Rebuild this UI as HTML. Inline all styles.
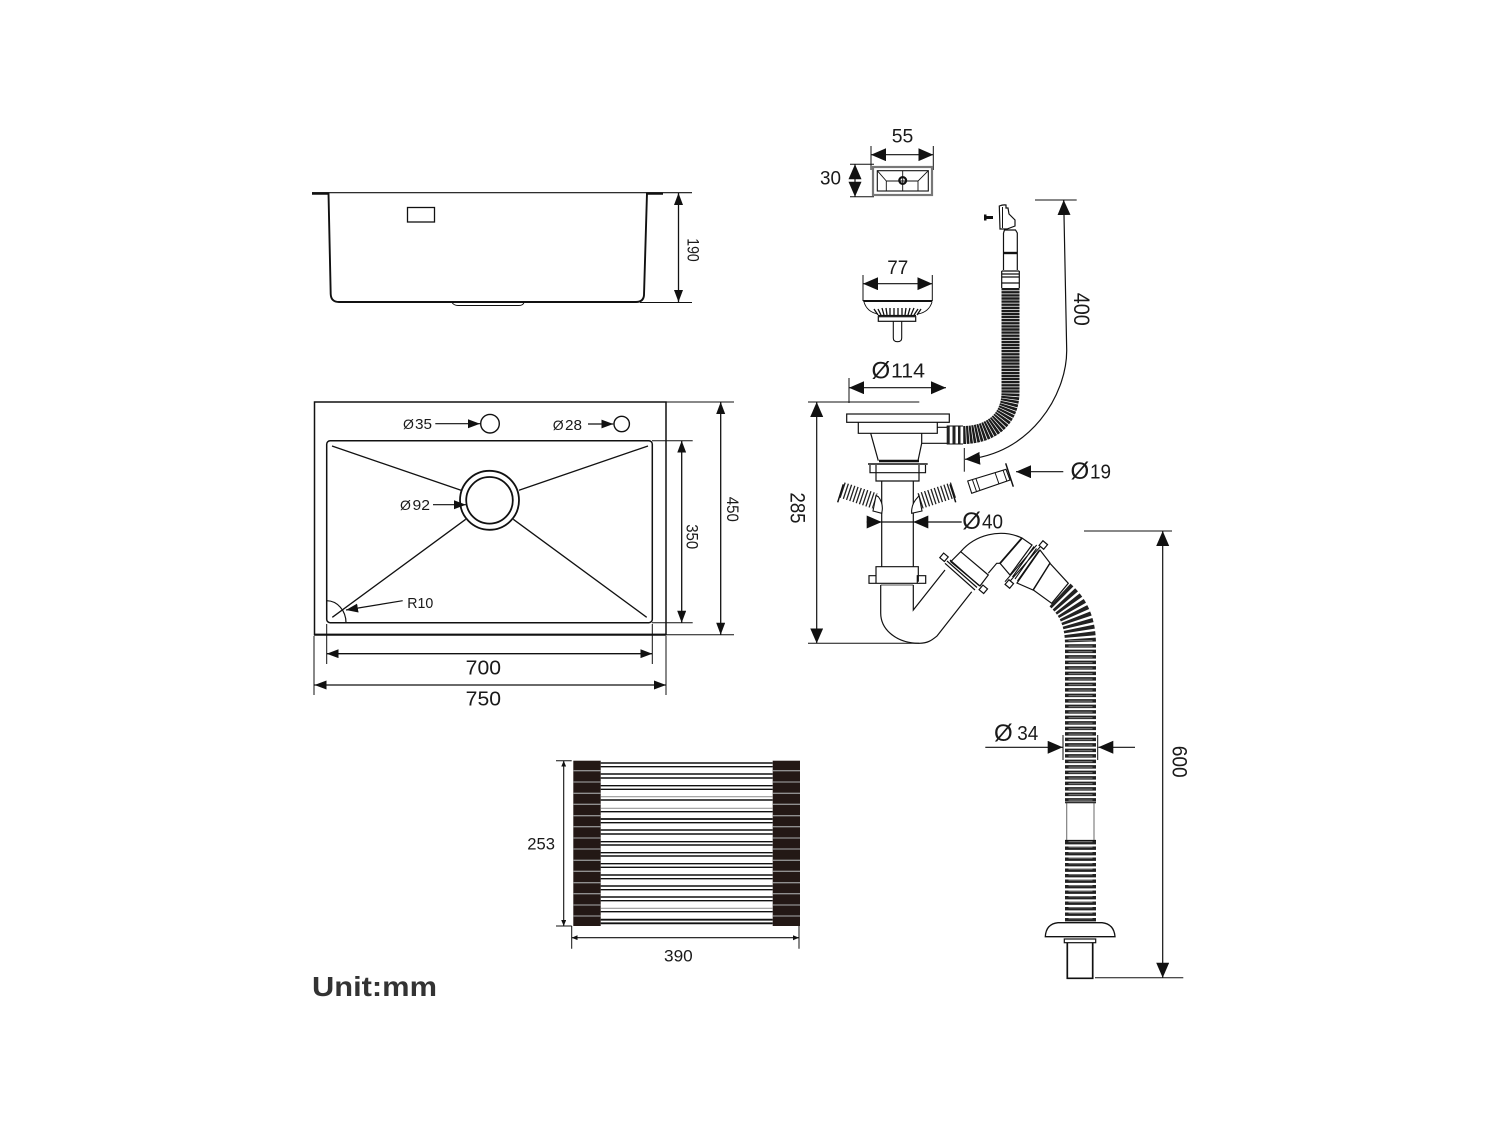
<!DOCTYPE html>
<html><head><meta charset="utf-8"><style>html,body{margin:0;padding:0;background:#fff}svg{display:block}text{font-family:"Liberation Sans",sans-serif;fill:#1a1a1a}</style></head><body>
<svg width="1500" height="1125" viewBox="0 0 1500 1125" xmlns="http://www.w3.org/2000/svg">
<defs>
<marker id="a" markerUnits="userSpaceOnUse" markerWidth="13" markerHeight="10" refX="12" refY="4.5" orient="auto-start-reverse"><path d="M0 0L12 4.5L0 9z" fill="#111"/></marker>
<marker id="b" markerUnits="userSpaceOnUse" markerWidth="16" markerHeight="14" refX="15" refY="6.5" orient="auto-start-reverse"><path d="M0 0L15 6.5L0 13z" fill="#111"/></marker>
<marker id="c" markerUnits="userSpaceOnUse" markerWidth="7" markerHeight="6" refX="6" refY="2.5" orient="auto-start-reverse"><path d="M0 0L6 2.5L0 5z" fill="#111"/></marker>
</defs>
<g fill="none" stroke="#111" stroke-width="1.2">
<!-- side view -->
<path d="M312 192.7H692" stroke-width="1.2"/>
<path d="M312 193.5H329M646 193.5H663" stroke-width="2.4"/>
<path d="M328.5 193L330.7 294Q331 302 339 302H636Q643.5 302 644 295L647 193" stroke-width="1.9"/>
<path d="M452 302.5Q454 305.5 458 305.5H519Q523 305.5 524 302.5" stroke-width="1"/>
<rect x="407.5" y="207.5" width="27" height="14.5" stroke-width="1.3"/>
<path d="M640 302.5H692" stroke-width="1"/>
<path d="M678.5 193V302" stroke-width="1.3" marker-start="url(#a)" marker-end="url(#a)"/>
<!-- plan view -->
<rect x="314.5" y="402" width="351.5" height="232.7" stroke-width="1.5"/>
<path d="M314 634.7H666" stroke-width="2.2"/>
<rect x="326.7" y="440.7" width="325.6" height="182" rx="3.5" stroke-width="1.5"/>
<path d="M332 446L461 490.3M648 446L519 490.3M332.3 617.3L465.7 519.3M646.7 617.3L513.3 519.3" stroke-width="1.3"/>
<circle cx="489.5" cy="500.3" r="29.5" stroke-width="1.8"/>
<circle cx="489.5" cy="500.3" r="23.3" stroke-width="1.8"/>
<circle cx="490" cy="423.7" r="9.3" stroke-width="1.4"/>
<circle cx="621.7" cy="424" r="7.7" stroke-width="1.4"/>
<path d="M435.3 423.7H480" marker-end="url(#a)"/>
<path d="M588 424H613.3" marker-end="url(#a)"/>
<path d="M433 504.7H466" marker-end="url(#a)"/>
<path d="M402.7 600.7L346 610" marker-end="url(#a)"/>
<path d="M326.7 600.7A19.5 22 0 0 1 346 622.7"/>
<path d="M652 440.7H692.7M652 622.7H692.7M666 402H734M666 634.7H734" stroke-width="1"/>
<path d="M681.7 440.7V622.7" stroke-width="1.3" marker-start="url(#a)" marker-end="url(#a)"/>
<path d="M720.7 402V634.7" stroke-width="1.3" marker-start="url(#a)" marker-end="url(#a)"/>
<path d="M326.7 624V664M652.3 624V664M314 636V695M666 636V695" stroke-width="1"/>
<path d="M326.7 653.7H652.3" stroke-width="1.3" marker-start="url(#a)" marker-end="url(#a)"/>
<path d="M314.5 685H666" stroke-width="1.3" marker-start="url(#a)" marker-end="url(#a)"/>
<!-- mat -->
<g stroke="none" fill="#231815"><rect x="573.3" y="760.7" width="27.4" height="165.3"/><rect x="772.7" y="760.7" width="27.3" height="165.3"/></g>
<path d="M573.3 770.7H600.7M573.3 782H600.7M573.3 793.3H600.7M573.3 804.3H600.7M573.3 815.7H600.7M573.3 826.7H600.7M573.3 838H600.7M573.3 849H600.7M573.3 860.3H600.7M573.3 871.3H600.7M573.3 882.7H600.7M573.3 893.7H600.7M573.3 905H600.7M573.3 916H600.7M772.7 770.7H800M772.7 782H800M772.7 793.3H800M772.7 804.3H800M772.7 815.7H800M772.7 826.7H800M772.7 838H800M772.7 849H800M772.7 860.3H800M772.7 871.3H800M772.7 882.7H800M772.7 893.7H800M772.7 905H800M772.7 916H800" stroke="#8f8f8f" stroke-width="1.3"/>
<path d="M600.7 763H772.7M600.7 766.7H772.7M600.7 774H772.7M600.7 778H772.7M600.7 785.7H772.7M600.7 789.3H772.7M600.7 800H772.7M600.7 811.7H772.7M600.7 822.7H772.7M600.7 830H772.7M600.7 834H772.7M600.7 841.7H772.7M600.7 845H772.7M600.7 852.7H772.7M600.7 856H772.7M600.7 863.7H772.7M600.7 867.3H772.7M600.7 875H772.7M600.7 878.7H772.7M600.7 886H772.7M600.7 889.7H772.7M600.7 897H772.7M600.7 900.7H772.7M600.7 911.7H772.7" stroke-width="1.4"/>
<path d="M600.7 819H772.7M600.7 919.7H772.7M600.7 923.3H772.7" stroke-width="1.8"/>
<path d="M600.7 796.7H772.7M600.7 808.3H772.7M600.7 908.3H772.7" stroke="#999" stroke-width="1.2"/>
<path d="M556 760.7H571.7M556 926H571.7M571.7 926V948.7M799 926V948.7" stroke-width="1"/>
<path d="M563.7 760.7V926" stroke-width="1.1" marker-start="url(#c)" marker-end="url(#c)"/>
<path d="M571.7 937.7H799" stroke-width="1.1" marker-start="url(#c)" marker-end="url(#c)"/>
<!-- overflow box -->
<path d="M871 146V170M933.3 146V170M850 164.3H874M850 196.7H874" stroke-width="1"/>
<path d="M871 154.7H933.3" stroke-width="1.2" marker-start="url(#b)" marker-end="url(#b)"/>
<path d="M855 164.3V196.7" stroke-width="1.2" marker-start="url(#b)" marker-end="url(#b)"/>
<rect x="873" y="167" width="59" height="28" stroke="#777" stroke-width="2.2"/>
<rect x="877.3" y="170.7" width="51" height="20.3" stroke-width="1.1"/>
<path d="M877.3 170.7L886.3 181V191M928.3 170.7L918 181V191M886.3 181H918M902.7 170.7V191" stroke-width=".9"/>
<circle cx="902.7" cy="180.5" r="3.4" stroke-width="2.2"/>
<!-- strainer -->
<path d="M863 275V301M932.3 275V301" stroke-width="1"/>
<path d="M863 283.7H932.3" stroke-width="1.2" marker-start="url(#b)" marker-end="url(#b)"/>
<path d="M863.3 301H932.3" stroke-width="2"/>
<path d="M864 302Q867 312 878 314M932 302Q929 312 918 314" stroke-width=".9"/>
<path d="M874 309L878 315M878 309L881 315M882 308L884 315M886 308L887 315M890 308V315M894 308V315M898 308V315M902 308V315M906 308L905 315M910 308L908 315M914 308L911 315M918 309L914 315M921 309L917 315" stroke-width="1.3"/>
<rect x="878.3" y="316.7" width="37.4" height="4.6" stroke-width="1.2"/>
<path d="M878 315.5H916" stroke-width="1.2"/>
<path d="M893.3 321.3V338Q893.3 341.7 897.5 341.7T901.7 338V321.3" stroke-width="1.1"/>
<!-- hose top fitting -->
<rect x="986" y="216" width="7" height="3" fill="#111" stroke="none"/><rect x="984" y="214.5" width="2.5" height="6" fill="#111" stroke="none"/>
<path d="M999.3 206Q1003 204.5 1006 205V208H1008L1009 214L1015 220V226L1007 229H1000Z" stroke-width="1.2"/>
<path d="M1002.5 207V228" stroke-width="1"/>
<path d="M1003.5 233L1004.5 230H1015.5L1017.3 233V270M1003.5 233V270"/>
<path d="M1003.5 253H1017.3" stroke-width="2.4"/>
<path d="M1001.7 271H1019.3M1001.7 274H1019.3M1001.7 277H1019.3M1001.7 283H1019.3M1001.7 271V288M1019.3 271V288"/>
<path d="M1010.5 288V392C1010.5 420 990 435 963 435" stroke="#1c1c1c" stroke-width="18" stroke-dasharray="2.4 .7"/>
<!-- main strainer body -->
<rect x="846.7" y="414" width="102.6" height="8.3" stroke-width="1.2"/>
<path d="M858.3 422.3V433.3H937.3V422.3"/>
<path d="M870.7 433.3L878.3 460.7M921.7 433.3V443.3L918 460.7M921.7 443.3H947M937.3 427.3H947"/>
<g fill="#222" stroke="none"><rect x="946.7" y="426" width="3" height="18"/><rect x="952.5" y="426" width="3" height="18"/><rect x="958" y="426" width="2.5" height="18"/></g>
<path d="M946.7 426H963M946.7 444H963" stroke-width="1"/>
<path d="M879 461H919" stroke-width="2.6"/>
<path d="M868 464H927.7" stroke-width="1.5"/>
<path d="M870 465V472.7H876M925.5 465V472.7H919M876 465V481H919V465M876 472.7H919"/>
<path d="M881.7 481V566.7M913.3 481V566.7"/>
<path d="M876 581.7V566.7H918.3V581.7M869 575.7H876V583.3H869ZM917.3 575.7H925.7V583.3H917.3ZM873 583.3H921"/>
<path d="M880.7 585H913.3" stroke="#888" stroke-width="1.5"/>
<path d="M880.7 585V613C880.7 630 897 643.3 919.3 643.3C928 643.3 932 640 937 636L971.7 591.7M913.3 585V610L945 570"/>
<!-- side hoses -->
<path d="M842 490L875 501" stroke="#222" stroke-width="16" stroke-dasharray="1.3 2.1"/>
<path d="M953.5 490L920 501" stroke="#222" stroke-width="16" stroke-dasharray="1.3 2.1"/>
<path d="M843.3 484.3L837.7 502.3M950 484.3L955.7 502.3" stroke-width="1.5"/>
<path d="M878.3 496.7Q884 504 881.7 513.3L873 511L876 495.5ZM918 497Q911 504 911.7 513.3L922 511L919 495.5Z" fill="#fff" stroke-width="1.1"/>
<!-- small tail -->
<path d="M967.7 481L1006 469.3L1010 480L971.7 493.3Z" stroke-width="1.1"/>
<path d="M972.5 480L976.5 491.5M976 478.8L980 490.5M995 472.5L999 484M1003 470L1007 481.5" stroke-width="1"/>
<path d="M1005.7 463.3L1013.3 486.7" stroke-width="1.5"/>
<!-- elbow -->
<path d="M960.7 551.7C975 535 1000 528 1022 538M988.3 573.3L996.7 563.3H1000.7"/>
<path d="M960.7 551.7L988.3 575L980 586L950.7 561.7Z" fill="#fff"/>
<path d="M945 563.3L975 590M947 561L977 587.5M950 560L979 585.5" stroke-width="1.2"/>
<rect x="941" y="554.3" width="6" height="6" transform="rotate(40 944 557.3)" fill="#fff"/>
<rect x="980.3" y="586.3" width="6" height="6" transform="rotate(40 983.3 589.3)" fill="#fff"/>
<path d="M1000 563.3L1022 538L1032 545L1010 575Z" fill="#fff"/>
<path d="M1000 563.3L1022 538" stroke-width="1.8"/>
<path d="M1012.5 577L1034 546.5M1015 579L1036.5 548.5M1017.5 581L1039 550.5M1005 581.7L1036.7 545M1007.5 584L1040 547" stroke-width="1.1"/>
<path d="M1017 583L1040 550L1050 563L1033 590Z" fill="#fff"/>
<path d="M1033.3 590L1050 563.3L1068.3 583.3L1051.7 603.3Z" fill="#fff"/>
<rect x="1040.3" y="542" width="6" height="6" transform="rotate(40 1043.3 545)" fill="#fff"/>
<rect x="1006.3" y="581" width="6" height="6" transform="rotate(40 1009.3 584)" fill="#fff"/>
<!-- long hose -->
<path d="M1060 595C1072 606 1080.5 620 1080.5 645V802.7" stroke="#222" stroke-width="31" stroke-dasharray="3.4 2.1"/>
<path d="M1080.5 640V802.7" stroke="#6e6e6e" stroke-width="24" stroke-dasharray="1.2 4.3"/>
<path d="M1066.7 802.7V840M1094 802.7V840" stroke="#777" stroke-width="1.1"/>
<path d="M1065 802.7H1096M1065 840.5H1096"/>
<path d="M1080.5 841V921.7" stroke="#222" stroke-width="31" stroke-dasharray="3.4 2.1"/>
<path d="M1080.5 841V921.7" stroke="#6e6e6e" stroke-width="24" stroke-dasharray="1.2 4.3"/>
<path d="M1045.3 936.7Q1046 924 1058 922.7H1102Q1114 924 1115 936.7Z" fill="#fff" stroke-width="1.3"/>
<rect x="1064.3" y="939" width="31.4" height="3.7"/>
<path d="M1067.3 942.7V978.3H1092.7V942.7" stroke-width="1.7"/>
<!-- dims right -->
<path d="M1035 200H1076.7" stroke-width="1"/>
<path d="M1063.7 200L1066.7 350C1067 395 1030 455 965 459.3" marker-start="url(#b)" marker-end="url(#b)"/>
<path d="M964.3 448V471.7" stroke-width="1"/>
<path d="M849 378V403M808 402H919.3M808 643.3H919.3" stroke-width="1"/>
<path d="M849 387.7H946" marker-start="url(#b)" marker-end="url(#b)"/>
<path d="M816.7 402V643.3" marker-start="url(#b)" marker-end="url(#b)"/>
<path d="M1063.3 471.7H1016" marker-end="url(#b)"/>
<path d="M866.7 522H961.7"/>
<g stroke="none" fill="#111"><path d="M881.7 522L866.7 515.5V528.5Z"/><path d="M913.3 522L928.3 515.5V528.5Z"/></g>
<path d="M1063 735V760M1097.7 735V760" stroke-width="1"/>
<path d="M985.3 747.3H1062.7" marker-end="url(#b)"/>
<path d="M1135 747.3H1098.3" marker-end="url(#b)"/>
<path d="M1084 531H1172M1095 977.7H1183.3" stroke-width="1"/>
<path d="M1162.7 531V977.7" marker-start="url(#b)" marker-end="url(#b)"/>
</g>
<g font-size="15">
<text x="403" y="429" font-size="14">Ø</text><text x="415" y="429" textLength="17" lengthAdjust="spacingAndGlyphs">35</text>
<text x="552.7" y="430" font-size="14">Ø</text><text x="565" y="430" textLength="17" lengthAdjust="spacingAndGlyphs">28</text>
<text x="400" y="510" font-size="14">Ø</text><text x="412.5" y="510" textLength="17.5" lengthAdjust="spacingAndGlyphs">92</text>
<text x="407.3" y="608" textLength="26" lengthAdjust="spacingAndGlyphs">R10</text>
</g>
<text transform="translate(687.3 250) rotate(90)" text-anchor="middle" font-size="16.5" textLength="23.5" lengthAdjust="spacingAndGlyphs">190</text>
<text transform="translate(686.3 536.7) rotate(90)" text-anchor="middle" font-size="16.5" textLength="25" lengthAdjust="spacingAndGlyphs">350</text>
<text transform="translate(727 509.3) rotate(90)" text-anchor="middle" font-size="16.5" textLength="25" lengthAdjust="spacingAndGlyphs">450</text>
<text x="465.7" y="674.3" font-size="20" textLength="35.3" lengthAdjust="spacingAndGlyphs">700</text>
<text x="465.7" y="705.3" font-size="20" textLength="35.3" lengthAdjust="spacingAndGlyphs">750</text>
<text x="527.3" y="849.3" font-size="16.5" textLength="27.7" lengthAdjust="spacingAndGlyphs">253</text>
<text x="664" y="961.7" font-size="16.5" textLength="28.7" lengthAdjust="spacingAndGlyphs">390</text>
<text x="891.7" y="142.3" font-size="19.5" textLength="21.6" lengthAdjust="spacingAndGlyphs">55</text>
<text x="820" y="184.3" font-size="19.5" textLength="21" lengthAdjust="spacingAndGlyphs">30</text>
<text x="887.3" y="274" font-size="19.5" textLength="21" lengthAdjust="spacingAndGlyphs">77</text>
<text transform="translate(1074 309.3) rotate(90)" text-anchor="middle" font-size="22" textLength="33" lengthAdjust="spacingAndGlyphs">400</text>
<text x="871.5" y="378.5" font-size="24">Ø</text><text x="891" y="377.7" font-size="20.5" textLength="34" lengthAdjust="spacingAndGlyphs">114</text>
<text transform="translate(790.5 508) rotate(90)" text-anchor="middle" font-size="21" textLength="31" lengthAdjust="spacingAndGlyphs">285</text>
<text x="1070.5" y="479" font-size="24">Ø</text><text x="1090" y="478.3" font-size="20.5" textLength="21" lengthAdjust="spacingAndGlyphs">19</text>
<text x="962.3" y="529" font-size="24">Ø</text><text x="982" y="528.3" font-size="20.5" textLength="21" lengthAdjust="spacingAndGlyphs">40</text>
<text x="994" y="741" font-size="24">Ø</text>
<text x="1017.3" y="740" font-size="20" textLength="21" lengthAdjust="spacingAndGlyphs">34</text>
<text transform="translate(1172.5 761.7) rotate(90)" text-anchor="middle" font-size="21" textLength="32" lengthAdjust="spacingAndGlyphs">600</text>
<text x="312" y="996" font-size="27.5" font-weight="bold" textLength="125" lengthAdjust="spacingAndGlyphs" style="fill:#333">Unit:mm</text>
</svg>
</body></html>
